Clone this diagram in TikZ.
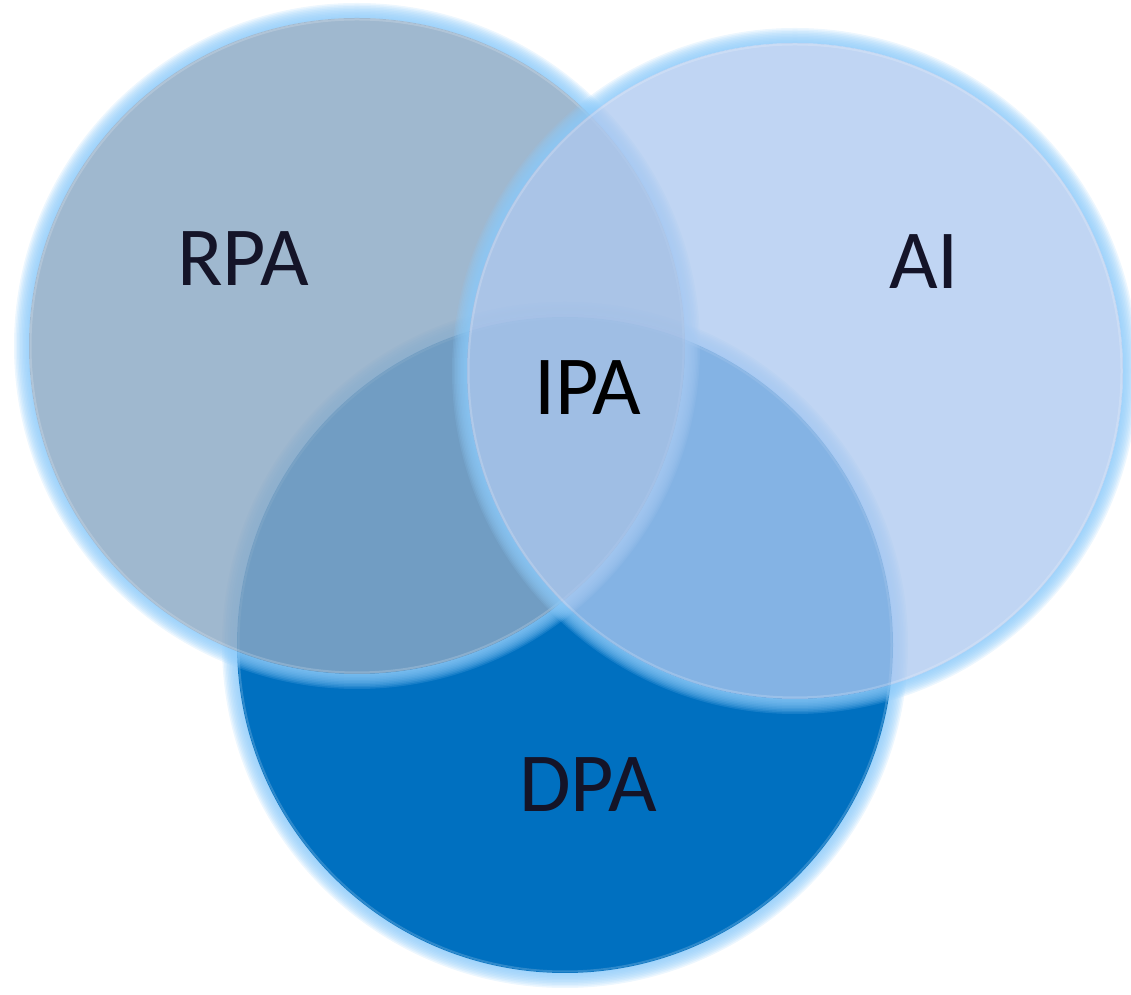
\documentclass[tikz,border=0pt]{standalone}
\usepackage{fontspec}
\setmainfont{Carlito}
\usetikzlibrary{positioning}

\definecolor{dpaFill}{HTML}{0070C0}
\definecolor{rpaFill}{HTML}{8AA8C4}
\definecolor{aiFill}{HTML}{ADC8EF}
\definecolor{glowCol}{HTML}{8ECBFA}
\definecolor{labelCol}{HTML}{141428}

\tikzset{
    venn label/.style={anchor=base, text=labelCol, font=\fontsize{63}{70}\selectfont},
}

\begin{document}
\begin{tikzpicture}[x=0.75pt, y=0.75pt]
    \useasboundingbox (0,0) rectangle (1131,995);
    \coordinate (dpa) at (565,350);
    \coordinate (rpa) at (357,649);
    \coordinate (ai) at (795,624);

    % bottom to top: glow ring, filled disc, light rim
    \foreach \c/\col/\op in {dpa/dpaFill/1, rpa/rpaFill/0.82, ai/aiFill/0.77}{
        \foreach \g in {1.5,3,...,15}
            \fill[glowCol, opacity=0.16, even odd rule]
                (\c) circle[radius=328+\g] (\c) circle[radius=328];
        \fill[\col, fill opacity=\op] (\c) circle[radius=328];
        \draw[white, opacity=0.18, line width=1.5] (\c) circle[radius=326.5];
    }

    \node[venn label] (rpaText) at (243,709) {RPA};
    \node[venn label] (aiText) at (924,706) {AI};
    \node[venn label, text=black] (ipaText) at (588,580) {IPA};
    \node[venn label] (dpaText) at (588,183) {DPA};
\end{tikzpicture}
\end{document}
